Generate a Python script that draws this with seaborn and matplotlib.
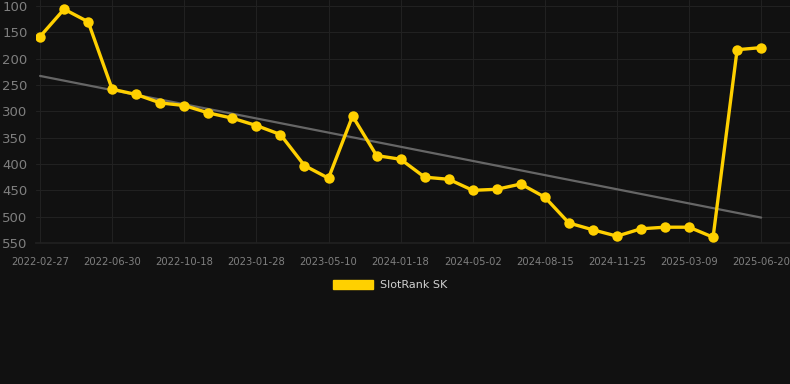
"""SlotRank SK rank history with linear trend."""

import matplotlib

matplotlib.use("Agg")

import matplotlib.pyplot as plt
import numpy as np
import pandas as pd
import seaborn as sns
from matplotlib.patches import Patch

# rank values, one per snapshot
rank_values = [
    158, 106, 130, 258, 268, 284, 289, 303, 313, 327, 344, 403, 427, 309, 384, 391,
    425, 429, 450, 448, 438, 463, 512, 525, 537, 523, 520, 520, 539, 183, 179,
]
tick_labels = [
    "2022-02-27", "2022-06-30", "2022-10-18", "2023-01-28", "2023-05-10", "2024-01-18",
    "2024-05-02", "2024-08-15", "2024-11-25", "2025-03-09", "2025-06-20",
]
y_ticks = [100, 150, 200, 250, 300, 350, 400, 450, 500, 550]

BG = "#111111"
GRID = "#212121"
TEXT = "#7f7f7f"
GOLD = "#FFD000"

sns.set_theme(style="dark")
plt.rcParams["font.family"] = ["DejaVu Sans"]

df = pd.DataFrame({"idx": np.arange(len(rank_values)), "rank": rank_values})

fig = plt.figure(figsize=(7.9, 3.84), dpi=100, facecolor=BG)
ax = fig.add_axes([36 / 790, 141 / 384, 754 / 790, 243 / 384])
ax.set_facecolor(BG)

sns.regplot(data=df, x="idx", y="rank", scatter=False, ci=None, ax=ax,
            line_kws={"color": "#666666", "linewidth": 1.6, "zorder": 2})
sns.lineplot(data=df, x="idx", y="rank", ax=ax, color=GOLD, linewidth=2.4,
             marker="o", markersize=7.5, markeredgewidth=0, zorder=3)

ax.set_xlim(-0.17, 31.2)
ax.set_ylim(550, 88.6)
ax.set_xticks(range(0, len(rank_values), 3))
ax.set_xticklabels(tick_labels)
ax.set_yticks(y_ticks)
ax.grid(True, color=GRID, linewidth=0.8)
ax.tick_params(axis="x", colors=GRID, labelcolor=TEXT, labelsize=7.2, length=7, pad=3)
ax.tick_params(axis="y", labelcolor=TEXT, labelsize=9.5, length=0, pad=6)
ax.set_xlabel("")
ax.set_ylabel("")
for side in ["top", "right", "left"]:
    ax.spines[side].set_visible(False)
ax.spines["bottom"].set_color(GRID)

handle = Patch(facecolor=GOLD, edgecolor=GOLD, label="SlotRank SK")
leg = fig.legend(handles=[handle], loc="center", bbox_to_anchor=(0.494, 0.258),
                 frameon=False, fontsize=8, handlelength=3.6, handleheight=1.0,
                 handletextpad=0.6)
for text in leg.get_texts():
    text.set_color("#d0d0d0")

fig.savefig("out.png", dpi=100, facecolor=BG)
plt.close(fig)
